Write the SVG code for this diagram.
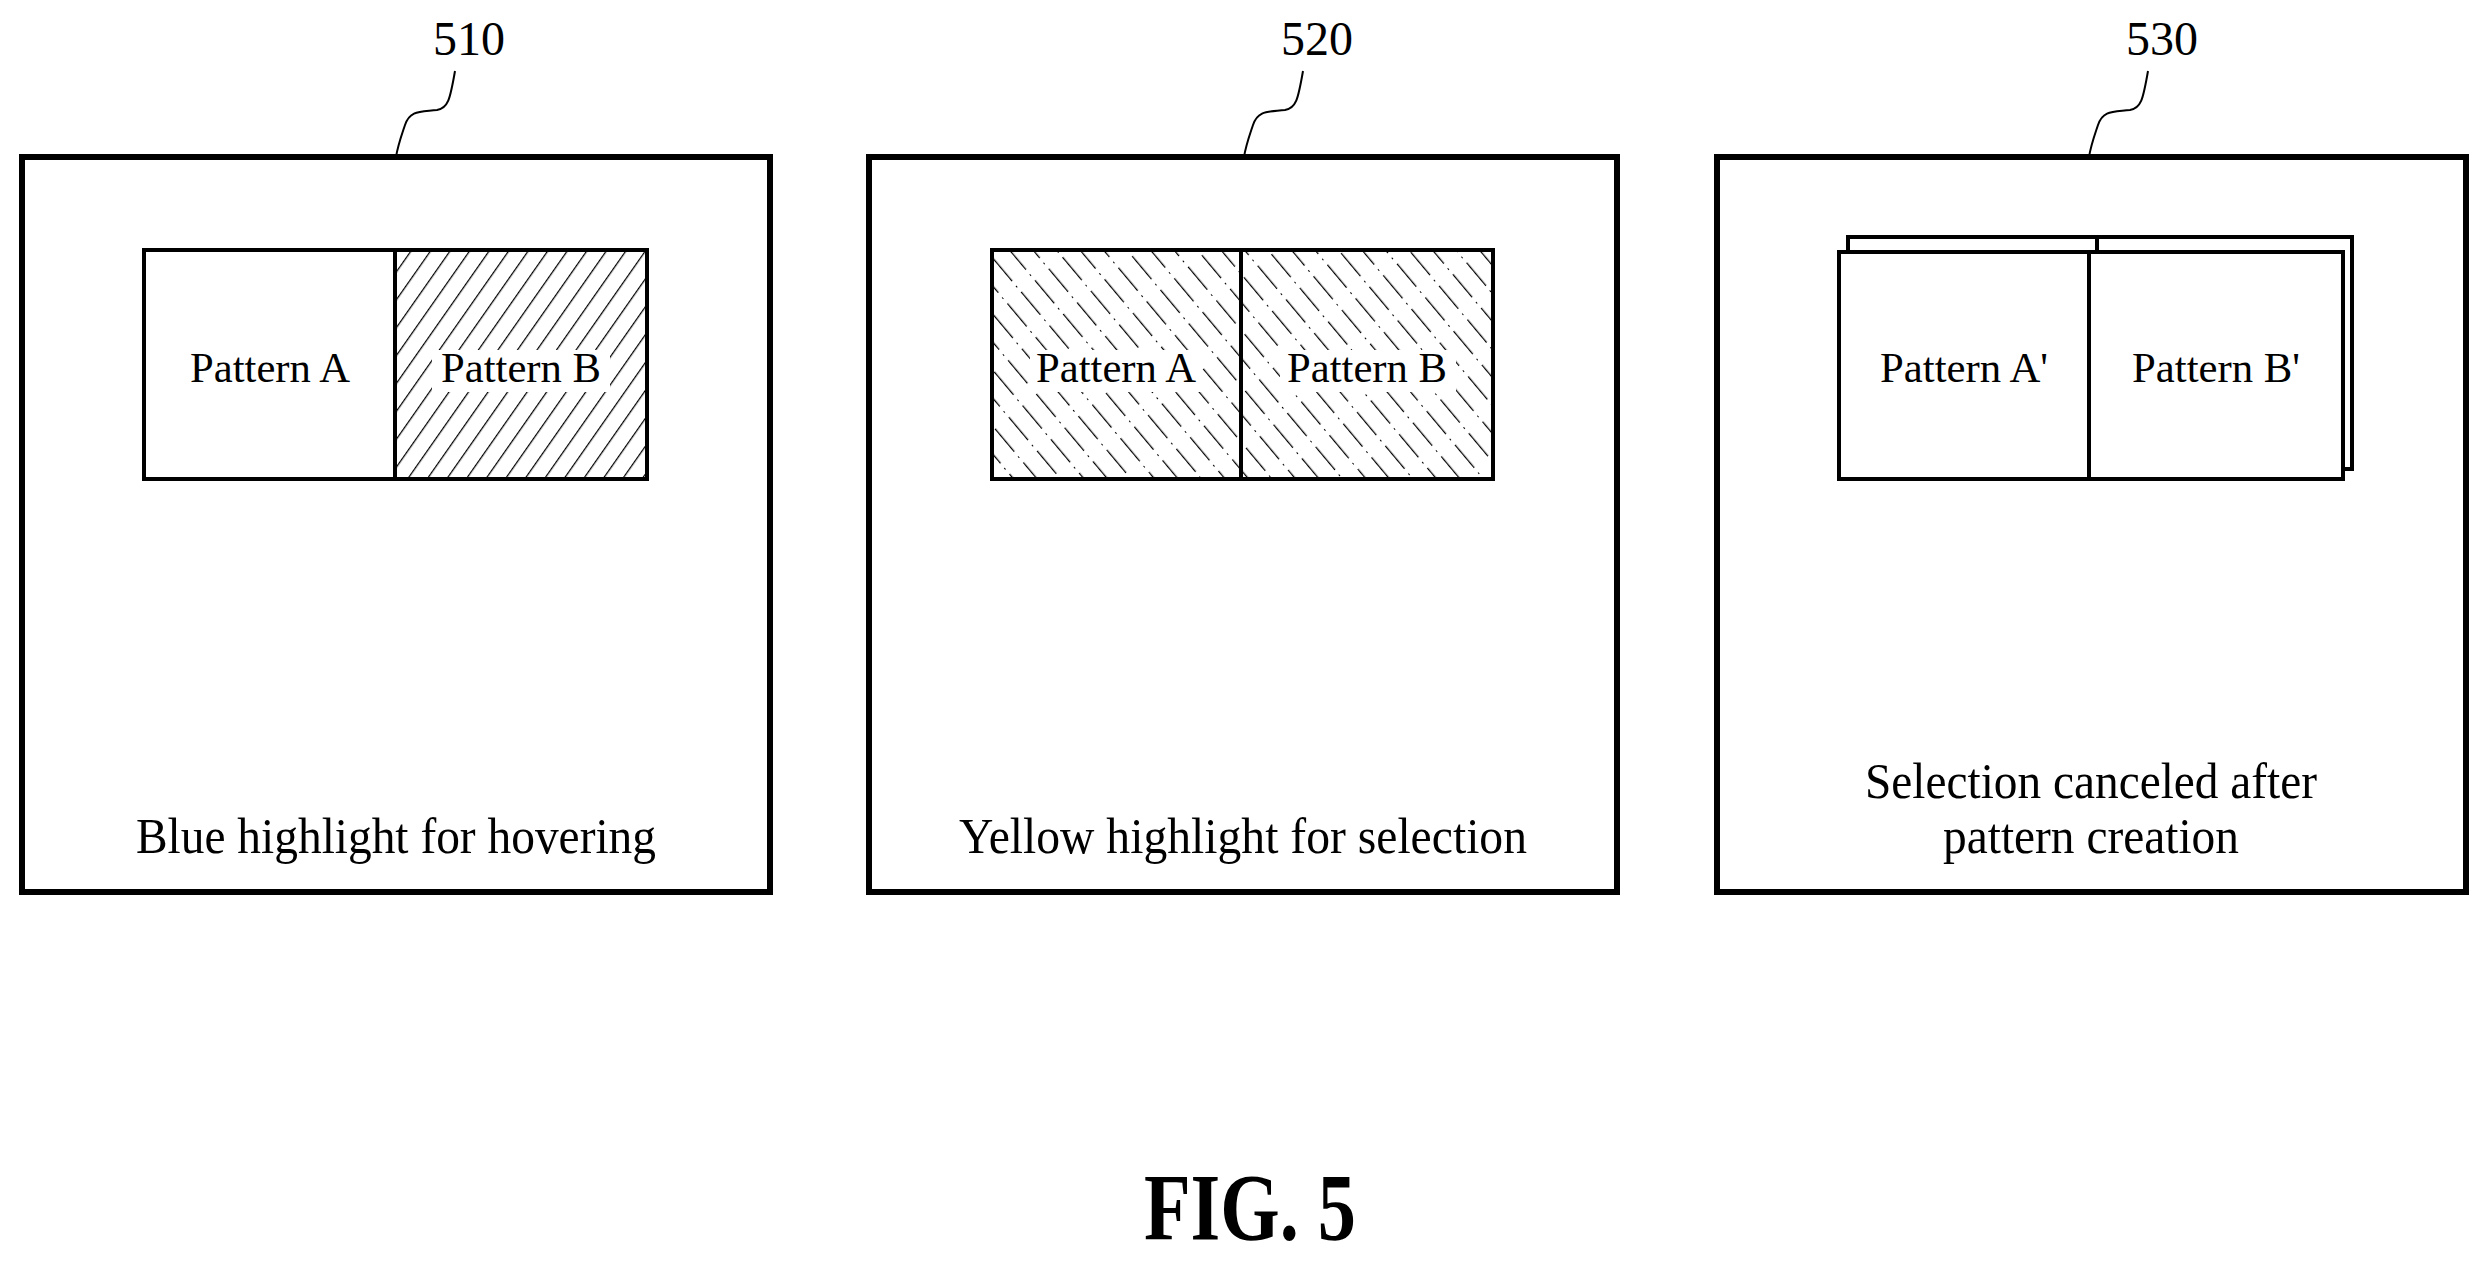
<svg xmlns="http://www.w3.org/2000/svg" width="2485" height="1266" viewBox="0 0 2485 1266">
<style>
.frame{fill:#fff;stroke:#000;stroke-width:6}
.in{stroke:#000;stroke-width:4}
.t{font-family:"Liberation Serif",serif;font-size:42px;text-anchor:middle;fill:#000}
.b{font-size:50px}
.n{font-family:"Liberation Serif",serif;font-size:48px;text-anchor:middle;fill:#000}
.lead{fill:none;stroke:#000;stroke-width:2}
</style>
<defs>
<pattern id="h1" width="16" height="16" patternUnits="userSpaceOnUse" patternTransform="rotate(35)">
<rect width="16" height="16" fill="#fff"/><line x1="0" y1="0" x2="0" y2="16" stroke="#000" stroke-width="2.5"/>
</pattern>
<pattern id="h2" width="18" height="44" patternUnits="userSpaceOnUse" patternTransform="rotate(-40)">
<rect width="18" height="44" fill="#fff"/><line x1="0" y1="0" x2="0" y2="30" stroke="#000" stroke-width="2.5"/><line x1="0" y1="36" x2="0" y2="38" stroke="#000" stroke-width="2"/>
</pattern>
</defs>
<g id="n510">
<rect class="frame" x="22" y="157" width="748" height="735"/>
<text class="n" x="469" y="55">510</text>
<path class="lead" d="M455 71 C450 100 448 108 437 110 C420 112 410 110 405 125 C400 140 398 145 396 157"/>
<rect class="in" x="144" y="250" width="251" height="229" fill="#fff"/>
<rect class="in" x="395" y="250" width="252" height="229" fill="url(#h1)"/>
<text class="t" x="270" y="382" textLength="160" lengthAdjust="spacingAndGlyphs">Pattern A</text>
<rect x="432" y="350" width="178" height="42" fill="#fff"/>
<text class="t" x="521" y="382" textLength="160" lengthAdjust="spacingAndGlyphs">Pattern B</text>
<text class="t b" x="396" y="853" textLength="520" lengthAdjust="spacingAndGlyphs">Blue highlight for hovering</text>
</g>
<g id="n520">
<rect class="frame" x="869" y="157" width="748" height="735"/>
<text class="n" x="1317" y="55">520</text>
<path class="lead" d="M1303 71 C1298 100 1296 108 1285 110 C1268 112 1258 110 1253 125 C1248 140 1246 145 1244 157"/>
<rect class="in" x="992" y="250" width="249" height="229" fill="url(#h2)"/>
<rect class="in" x="1241" y="250" width="252" height="229" fill="url(#h2)"/>
<rect x="1030" y="350" width="172" height="42" fill="#fff"/>
<text class="t" x="1116" y="382" textLength="160" lengthAdjust="spacingAndGlyphs">Pattern A</text>
<rect x="1280" y="350" width="176" height="42" fill="#fff"/>
<text class="t" x="1367" y="382" textLength="160" lengthAdjust="spacingAndGlyphs">Pattern B</text>
<text class="t b" x="1243" y="853" textLength="568" lengthAdjust="spacingAndGlyphs">Yellow highlight for selection</text>
</g>
<g id="n530">
<rect class="frame" x="1717" y="157" width="749" height="735"/>
<text class="n" x="2162" y="55">530</text>
<path class="lead" d="M2148 71 C2143 100 2141 108 2130 110 C2113 112 2103 110 2098 125 C2093 140 2091 145 2089 157"/>
<rect class="in" x="1848" y="237" width="504" height="232" fill="#fff"/>
<line class="in" x1="2097" y1="237" x2="2097" y2="254"/>
<rect class="in" x="1839" y="252" width="504" height="227" fill="#fff"/>
<line class="in" x1="2089" y1="252" x2="2089" y2="479"/>
<text class="t" x="1964" y="382" textLength="168" lengthAdjust="spacingAndGlyphs">Pattern A'</text>
<text class="t" x="2216" y="382" textLength="168" lengthAdjust="spacingAndGlyphs">Pattern B'</text>
<text class="t b" x="2091" y="798" textLength="452" lengthAdjust="spacingAndGlyphs">Selection canceled after</text>
<text class="t b" x="2091" y="853" textLength="296" lengthAdjust="spacingAndGlyphs">pattern creation</text>
</g>
<text x="1250" y="1240" font-family="Liberation Serif,serif" font-weight="bold" font-size="95" text-anchor="middle" textLength="212" lengthAdjust="spacingAndGlyphs">FIG. 5</text>
</svg>
